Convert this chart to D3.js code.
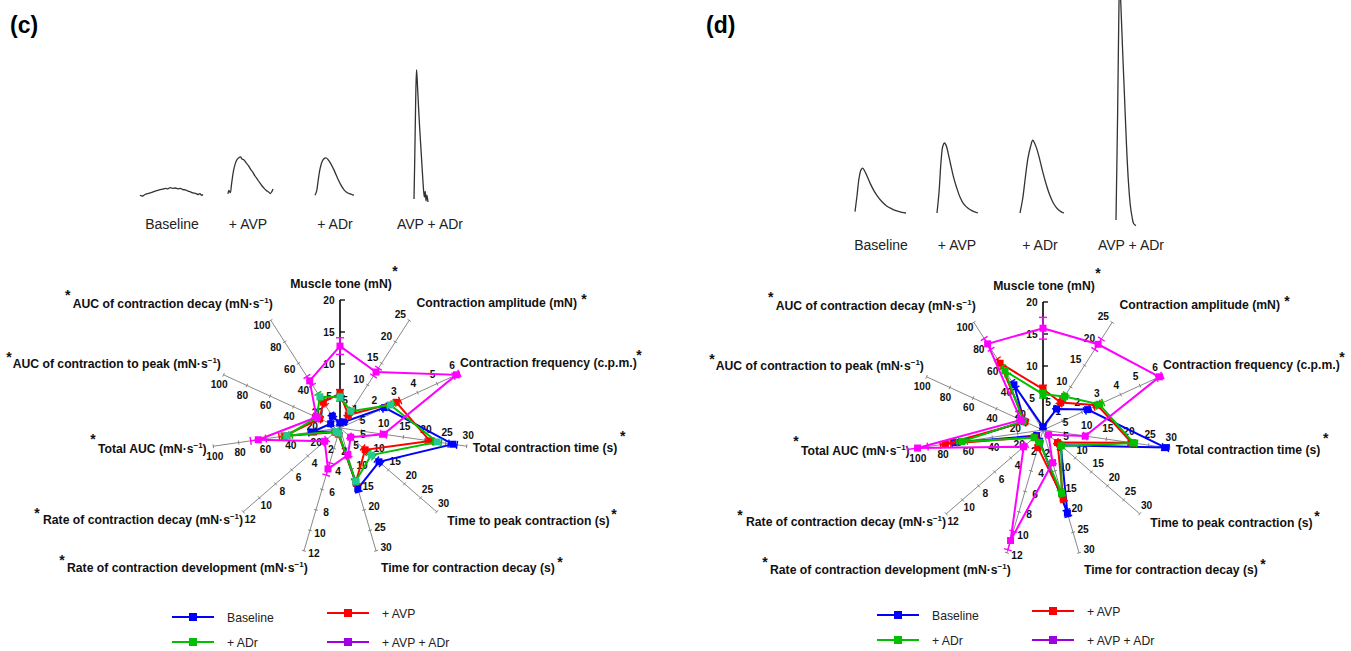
<!DOCTYPE html>
<html><head><meta charset="utf-8">
<script src="https://cdn.jsdelivr.net/npm/d3@7"></script>
<style>
body{margin:0;background:#fff;}
svg{display:block;font-family:"Liberation Sans",Arial,Helvetica,sans-serif;}
</style>
</head><body>
<svg id="chart" width="1351" height="651"></svg>
<script>
// ---------- DATA ----------
const axisLabels = [
  "Muscle tone (mN)",
  "Contraction amplitude (mN)",
  "Contraction frequency (c.p.m.)",
  "Total contraction time (s)",
  "Time to peak contraction (s)",
  "Time for contraction decay (s)",
  "Rate of contraction development (mN·s|)",
  "Rate of contraction decay (mN·s|)",
  "Total AUC (mN·s|)",
  "AUC of contraction to peak (mN·s|)",
  "AUC of contraction decay (mN·s|)"
];
const axisMax = [20, 25, 6, 30, 30, 30, 12, 12, 100, 100, 100];
const axisTicks = [
  [5, 10, 15, 20],
  [5, 10, 15, 20, 25],
  [1, 2, 3, 4, 5, 6],
  [5, 10, 15, 20, 25, 30],
  [5, 10, 15, 20, 25, 30],
  [5, 10, 15, 20, 25, 30],
  [2, 4, 6, 8, 10, 12],
  [2, 4, 6, 8, 10, 12],
  [20, 40, 60, 80, 100],
  [20, 40, 60, 80, 100],
  [20, 40, 60, 80, 100]
];
const seriesNames = ["Baseline", "+ AVP", "+ ADr", "+ AVP + ADr"];

// panel (c)
const c_baseline = [0.8, 1.4, 2.3, 26.7, 12.1, 14.8, 0.5, 0.5, 22, 8, 11];
const c_avp      = [5.4, 3.0, 2.9, 21.3, 7.8, 13.2, 0.6, 0.6, 44, 17.5, 24];
const c_adr      = [4.8, 3.9, 2.6, 23.0, 9.7, 13.0, 0.5, 0.5, 42, 20, 29];
const c_combo    = [12.8, 13.0, 6.0, 10.3, 3.3, 6.6, 4.0, 1.9, 64.5, 20.2, 43.8];
const c_baseline_err = [0.3, 0.3, 0.15, 1.0, 0.8, 0.8, 0.1, 0.1, 3, 1.5, 2];
const c_avp_err      = [0.6, 0.5, 0.2, 1.0, 0.8, 0.8, 0.1, 0.1, 4, 2, 3];
const c_adr_err      = [0.6, 0.5, 0.2, 1.0, 0.8, 0.8, 0.1, 0.1, 4, 2, 3];
const c_combo_err    = [1.3, 0.9, 0.15, 0.8, 0.5, 0.6, 0.6, 0.3, 6, 3, 4];

// panel (d)
const d_baseline = [0.5, 4.9, 2.3, 29.0, 5.5, 20.3, 1.1, 0.8, 69, 16, 42];
const d_avp      = [6.4, 6.4, 2.8, 21.0, 4.5, 16.7, 1.7, 1.0, 77, 15.5, 62];
const d_adr      = [5.6, 7.8, 2.9, 21.5, 5.7, 15.4, 1.2, 1.1, 64, 17, 55];
const d_combo    = [15.9, 19.9, 6.0, 10.0, 1.7, 8.0, 10.8, 2.4, 99, 19, 80];
const d_baseline_err = [0.3, 0.4, 0.15, 0.8, 0.5, 0.8, 0.1, 0.1, 3, 2, 3];
const d_avp_err      = [0.6, 0.6, 0.2, 0.8, 0.5, 0.8, 0.15, 0.1, 4, 2, 4];
const d_adr_err      = [0.6, 0.6, 0.2, 0.8, 0.5, 0.8, 0.15, 0.1, 4, 2, 4];
const d_combo_err    = [1.7, 1.2, 0.15, 0.5, 0.3, 0.5, 0.9, 0.3, 8, 3, 5];

// representative traces: [time (normalised), force (a.u.)]
const traceLabels = ["Baseline", "+ AVP", "+ ADr", "AVP + ADr"];
const c_trace_baseline = [[0,0.02],[0.04,0.0],[0.08,0.04],[0.12,0.06],[0.16,0.08],[0.2,0.1],[0.24,0.13],[0.28,0.15],[0.32,0.17],[0.36,0.18],[0.4,0.2],[0.44,0.19],[0.48,0.22],[0.52,0.2],[0.56,0.21],[0.6,0.19],[0.64,0.2],[0.68,0.17],[0.72,0.16],[0.76,0.13],[0.8,0.11],[0.84,0.08],[0.88,0.07],[0.92,0.04],[0.95,0.06],[0.98,0.02],[1,0.04]];
const c_trace_avp = [[0,0.03],[0.02,0.12],[0.05,0.06],[0.08,0.3],[0.12,0.62],[0.16,0.82],[0.2,0.93],[0.24,0.98],[0.28,1.0],[0.31,0.95],[0.35,0.93],[0.4,0.85],[0.45,0.78],[0.5,0.68],[0.55,0.6],[0.6,0.5],[0.65,0.42],[0.7,0.33],[0.75,0.25],[0.8,0.18],[0.85,0.12],[0.9,0.08],[0.94,0.04],[0.97,0.08],[1,0.16]];
const c_trace_adr = [[0,0.02],[0.04,0.12],[0.08,0.4],[0.13,0.72],[0.18,0.9],[0.24,0.99],[0.29,1.0],[0.34,0.95],[0.4,0.86],[0.47,0.72],[0.54,0.56],[0.6,0.42],[0.67,0.28],[0.74,0.17],[0.81,0.1],[0.88,0.06],[0.94,0.04],[1,0.02]];
const c_trace_combo = [[0,0.0],[0.06,1.2],[0.12,2.6],[0.18,3.4],[0.22,3.2],[0.3,2.6],[0.4,1.9],[0.5,1.3],[0.6,0.7],[0.68,0.25],[0.74,0.05],[0.8,0.2],[0.86,-0.05],[0.92,0.1],[1,-0.08]];
const d_trace_baseline = [[0,0.02],[0.04,0.25],[0.08,0.5],[0.12,0.62],[0.15,0.64],[0.19,0.6],[0.24,0.52],[0.3,0.42],[0.37,0.32],[0.45,0.23],[0.53,0.16],[0.62,0.1],[0.72,0.06],[0.82,0.03],[0.92,0.01],[1,0.0]];
const d_trace_avp = [[0,0.0],[0.05,0.3],[0.1,0.75],[0.14,0.95],[0.18,1.0],[0.22,0.97],[0.27,0.86],[0.33,0.7],[0.4,0.52],[0.48,0.36],[0.56,0.23],[0.65,0.13],[0.75,0.07],[0.86,0.03],[1,0.0]];
const d_trace_adr = [[0,0.0],[0.06,0.2],[0.12,0.5],[0.18,0.78],[0.24,0.95],[0.29,1.04],[0.33,1.0],[0.38,0.92],[0.45,0.76],[0.52,0.58],[0.6,0.4],[0.68,0.25],[0.76,0.14],[0.85,0.06],[0.93,0.02],[1,0.0]];
const d_trace_combo = [[0,0.0],[0.08,1.5],[0.14,2.9],[0.18,3.4],[0.24,3.1],[0.32,2.5],[0.42,1.8],[0.52,1.1],[0.62,0.55],[0.72,0.2],[0.8,0.05],[0.88,-0.05],[1,-0.08]];

// ---------- STYLE / LAYOUT ----------
const lineColors = ["#0000ff", "#ff0000", "#00c000", "#ff00ff"];
const markerColorsC = ["#0000ff", "#ff0000", "#22c990", "#ff00ff"];
const markerColorsD = ["#0000ff", "#ff0000", "#00c000", "#ff00ff"];
const legendColors = ["#0000ff", "#ff0000", "#00c000", "#a000e0"];
const R = 128, N = axisMax.length;
const scales = axisMax.map(m => d3.scaleLinear().domain([0, m]).range([0, R]));
const svg = d3.select("#chart");

// title positions relative to radar centre (text centre-y, asterisk centre)
const titleLayout = [
  {a:"middle", x:1,    y:-145,  sx:55,   sy:-160},
  {a:"start",  x:76.5, y:-125.5,sx:244,  sy:-132},
  {a:"start",  x:120,  y:-65.3, sx:299,  sy:-76},
  {a:"start",  x:132.7,y:19.7,  sx:282.7,sy:5.3},
  {a:"start",  x:107.3,y:92,    sx:274,  sy:82.7},
  {a:"start",  x:41,   y:139,   sx:220,  sy:131},
  {a:"start",  x:-273, y:139,   sx:-278, sy:129},
  {a:"start",  x:-297, y:91,    sx:-303, sy:82},
  {a:"start",  x:-242, y:20.3,  sx:-247, sy:8},
  {a:"start",  x:-327.3,y:-64.7,sx:-331, sy:-74},
  {a:"start",  x:-267.3,y:-124.7,sx:-272.3,sy:-136.3}
];

function ang(i){ return Math.PI/2 - i*2*Math.PI/N; }
function unit(i){ const a = ang(i); return [Math.cos(a), -Math.sin(a)]; }
function pos(cx, cy, i, r){ const u = unit(i); return [cx + u[0]*r, cy + u[1]*r]; }

function addTitle(g, text, x, y, anchor){
  const t = g.append("text").attr("x", x).attr("y", y + 4.5)
    .attr("text-anchor", anchor).attr("font-size", 12.2).attr("font-weight", "bold").attr("fill", "#111");
  const parts = text.split("|");
  if (parts.length === 1) { t.text(text); return; }
  t.append("tspan").text(parts[0]);
  t.append("tspan").text("\u2212" + "1").attr("font-size", 8).attr("dy", -5);
  t.append("tspan").text(")").attr("dy", 5);
}

function drawRadar(cx, cy, series, errs, markerColors){
  const g = svg.append("g");
  // spokes
  axisMax.forEach((m, i) => {
    const u = unit(i);
    const perp = [u[1], -u[0]];
    const end = pos(cx, cy, i, R);
    const main = i === 0;
    g.append("line").attr("x1", cx).attr("y1", cy).attr("x2", end[0]).attr("y2", end[1])
      .attr("stroke", main ? "#000" : "#7a7a7a").attr("stroke-width", main ? 1.6 : 0.9);
    axisTicks[i].forEach(t => {
      const p = pos(cx, cy, i, scales[i](t));
      if (main) {
        g.append("line").attr("x1", p[0]).attr("y1", p[1]).attr("x2", p[0] + 5).attr("y2", p[1])
          .attr("stroke", "#000").attr("stroke-width", 1.3);
      } else {
        g.append("line").attr("x1", p[0] - perp[0]*2).attr("y1", p[1] - perp[1]*2)
          .attr("x2", p[0] + perp[0]*2).attr("y2", p[1] + perp[1]*2)
          .attr("stroke", "#7a7a7a").attr("stroke-width", 0.9);
      }
      const off = main ? 11 : 10.5;
      g.append("text").attr("x", p[0] + perp[0]*off).attr("y", p[1] + perp[1]*off)
        .attr("text-anchor", "middle").attr("dominant-baseline", "central")
        .attr("font-size", 10.2).attr("font-weight", "bold").attr("fill", "#111").text(t);
    });
    const L = titleLayout[i];
    addTitle(g, axisLabels[i], cx + L.x, cy + L.y, L.a);
    g.append("text").attr("x", cx + L.sx).attr("y", cy + L.sy + 8).attr("text-anchor", "middle")
      .attr("font-size", 14).attr("font-weight", "bold").attr("fill", "#111").text("*");
  });
  // series
  const line = d3.line().curve(d3.curveLinearClosed);
  series.forEach((vals, s) => {
    const col = lineColors[s];
    const pts = vals.map((v, i) => pos(cx, cy, i, scales[i](v)));
    const sg = g.append("g");
    vals.forEach((v, i) => {
      const e = errs[s][i];
      const u = unit(i), perp = [u[1], -u[0]];
      const lo = pos(cx, cy, i, scales[i](Math.max(0, v - e)));
      const hi = pos(cx, cy, i, scales[i](v + e));
      sg.append("line").attr("x1", lo[0]).attr("y1", lo[1]).attr("x2", hi[0]).attr("y2", hi[1])
        .attr("stroke", col).attr("stroke-width", 1.4);
      [lo, hi].forEach(p => sg.append("line")
        .attr("x1", p[0] - perp[0]*4).attr("y1", p[1] - perp[1]*4)
        .attr("x2", p[0] + perp[0]*4).attr("y2", p[1] + perp[1]*4)
        .attr("stroke", col).attr("stroke-width", 1.4));
    });
    sg.append("path").attr("d", line(pts)).attr("fill", "none").attr("stroke", col).attr("stroke-width", 2);
    sg.selectAll("rect").data(pts).join("rect")
      .attr("x", d => d[0] - 3.5).attr("y", d => d[1] - 3.5).attr("width", 7).attr("height", 7).attr("fill", markerColors[s]);
  });
}

function drawLegend(x0, y0){
  const g = svg.append("g");
  const spots = [[0, 0], [155, -4], [0, 25], [155, 25]];
  seriesNames.forEach((n, i) => {
    const [dx, dy] = spots[i];
    const x = x0 + dx, y = y0 + dy;
    g.append("line").attr("x1", x).attr("y1", y).attr("x2", x + 42).attr("y2", y)
      .attr("stroke", legendColors[i]).attr("stroke-width", 2.2);
    g.append("rect").attr("x", x + 17).attr("y", y - 4).attr("width", 8).attr("height", 8).attr("fill", legendColors[i]);
    g.append("text").attr("x", x + 55).attr("y", y + 4.5).attr("font-size", 12.2).attr("fill", "#222").text(n);
  });
}

function drawTraces(traces, boxes, labelX, labelY, pxPerUnit){
  const g = svg.append("g");
  traces.forEach((tr, k) => {
    const b = boxes[k];
    const xs = d3.scaleLinear().domain([0, 1]).range([b.x0, b.x1]);
    const ys = d3.scaleLinear().domain([0, 1]).range([b.base, b.base - pxPerUnit]);
    const path = d3.line().x(d => xs(d[0])).y(d => ys(d[1])).curve(d3.curveCatmullRom);
    g.append("path").attr("d", path(tr)).attr("fill", "none").attr("stroke", "#333").attr("stroke-width", 1.3);
    g.append("text").attr("x", labelX[k]).attr("y", labelY + 5).attr("text-anchor", "middle")
      .attr("font-size", 14).attr("fill", "#222").text(traceLabels[k]);
  });
}

// panel labels
svg.append("text").attr("x", 10).attr("y", 33).attr("font-size", 23).attr("font-weight", "bold").text("(c)");
svg.append("text").attr("x", 706).attr("y", 33).attr("font-size", 23).attr("font-weight", "bold").text("(d)");

// traces
drawTraces([c_trace_baseline, c_trace_avp, c_trace_adr, c_trace_combo],
  [{x0:140,x1:203,base:196},{x0:228,x1:273,base:195},{x0:315,x1:354,base:196},{x0:414,x1:428,base:199}],
  [172, 248, 335, 430], 224, 38);
drawTraces([d_trace_baseline, d_trace_avp, d_trace_adr, d_trace_combo],
  [{x0:855,x1:906,base:213},{x0:937,x1:978,base:213},{x0:1020,x1:1064,base:213},{x0:1116,x1:1136,base:220}],
  [881, 957, 1040, 1131], 245, 70);

// radars
drawRadar(340, 428, [c_baseline, c_avp, c_adr, c_combo], [c_baseline_err, c_avp_err, c_adr_err, c_combo_err], markerColorsC);
drawRadar(1043, 430, [d_baseline, d_avp, d_adr, d_combo], [d_baseline_err, d_avp_err, d_adr_err, d_combo_err], markerColorsD);

// legends
drawLegend(172, 617);
drawLegend(877, 615);
</script>
</body></html>
